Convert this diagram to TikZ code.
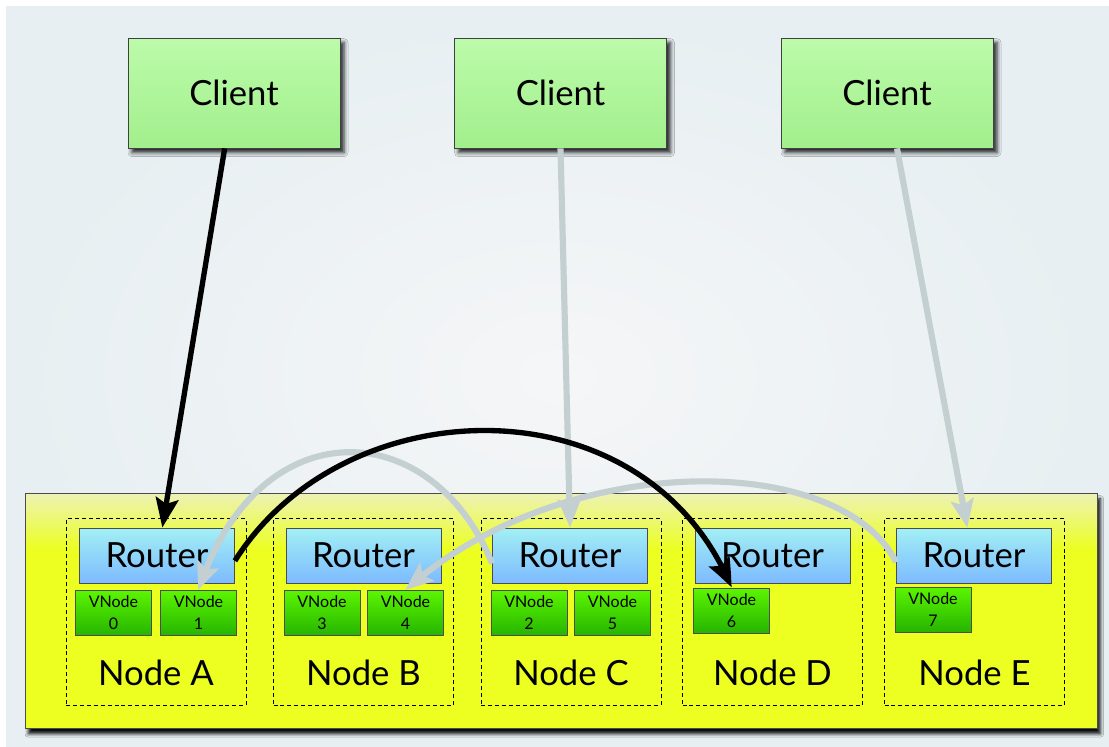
\documentclass[tikz,border=0pt]{standalone}
\usepackage{fontspec}
\setmainfont{Lato}
\usetikzlibrary{arrows.meta,bending,shadows.blur}

\definecolor{bgIn}{HTML}{F5F6F7}
\definecolor{bgOut}{HTML}{E7EFF2}
\definecolor{cliT}{HTML}{BCFBAA}
\definecolor{cliB}{HTML}{A2EF8C}
\definecolor{rtT}{HTML}{A2F0F4}
\definecolor{rtB}{HTML}{7DBAFF}
\definecolor{vnT}{HTML}{5CF500}
\definecolor{vnB}{HTML}{26B400}
\definecolor{ylwT}{HTML}{EDF2B4}
\definecolor{ylwB}{HTML}{ECFF20}
\definecolor{link}{HTML}{C3CFD1}

% pale band at the top of the cluster box, full yellow below
\pgfdeclareverticalshading{clusterfill}{100bp}{color(0bp)=(ylwB); color(25bp)=(ylwB); color(63bp)=(ylwB); color(75bp)=(ylwT); color(100bp)=(ylwT)}

\begin{document}
\begin{tikzpicture}[x=0.75pt,y=-0.75pt,
  client/.style={draw=black!75, line width=0.6pt, top color=cliT, bottom color=cliB,
    minimum width=159pt, minimum height=82.5pt, inner sep=0pt,
    font=\fontsize{26}{30}\selectfont,
    blur shadow={shadow xshift=3pt, shadow yshift=-3.5pt, shadow opacity=85, shadow blur radius=3pt}},
  cluster/.style={draw=black!70, line width=0.6pt, shading=clusterfill,
    minimum width=804pt, minimum height=176.25pt, inner sep=0pt,
    blur shadow={shadow xshift=2.5pt, shadow yshift=-4pt, shadow opacity=95, shadow blur radius=2.5pt}},
  hostbox/.style={draw=black, line width=0.6pt, dash pattern=on 3pt off 2.2pt,
    minimum width=135pt, minimum height=140pt, inner sep=0pt},
  router/.style={draw=black!70, line width=0.6pt, top color=rtT, bottom color=rtB,
    minimum width=116.25pt, minimum height=41.25pt, inner sep=0pt,
    font=\fontsize{26}{30}\selectfont},
  vnode/.style={draw=black!70, line width=0.6pt, top color=vnT, bottom color=vnB,
    minimum width=57pt, minimum height=33.75pt, inner sep=0pt, align=center,
    font=\fontsize{12}{16.5}\selectfont},
  hostlabel/.style={font=\fontsize{26}{30}\selectfont, inner sep=0pt},
  blackarrow/.style={line width=4pt, black, -{Stealth[length=22pt,width=17pt,inset=4pt,bend]}},
  grayarrow/.style={line width=4.6pt, link, -{Stealth[length=21pt,width=17pt,inset=4pt,bend]}}
]
\useasboundingbox (0,0) rectangle (1109,746);
\fill[white] (0,0) rectangle (1109,746);
\fill[inner color=bgIn, outer color=bgOut] (6,6) rectangle (1109,746);

% cluster of hosts
\node[cluster] (cl) at (561,611) {};

\node[hostbox] (hA) at (156,612) {};
\node[hostbox] (hB) at (363.5,612) {};
\node[hostbox] (hC) at (571,612) {};
\node[hostbox] (hD) at (772.5,612) {};
\node[hostbox] (hE) at (974.5,612) {};

\node[router] (rA) at (157,555.5) {Router};
\node[router] (rB) at (363.5,555.5) {Router};
\node[router] (rC) at (570,555.5) {Router};
\node[router] (rD) at (772.5,555.5) {Router};
\node[router] (rE) at (974,555.5) {Router};

\node[vnode] (v0) at (113.5,613) {VNode\\0};
\node[vnode] (v1) at (198.5,613) {VNode\\1};
\node[vnode] (v3) at (322,613) {VNode\\3};
\node[vnode] (v4) at (405.5,613) {VNode\\4};
\node[vnode] (v2) at (529,613) {VNode\\2};
\node[vnode] (v5) at (612.5,613) {VNode\\5};
\node[vnode] (v6) at (731.5,610.5) {VNode\\6};
\node[vnode] (v7) at (933,609.5) {VNode\\7};

\node[hostlabel] (lA) at (156,673) {Node A};
\node[hostlabel] (lB) at (363.5,673) {Node B};
\node[hostlabel] (lC) at (571,673) {Node C};
\node[hostlabel] (lD) at (772.5,673) {Node D};
\node[hostlabel] (lE) at (974.5,673) {Node E};

% clients
\node[client] (c1) at (234,93) {Client};
\node[client] (c2) at (560.5,93) {Client};
\node[client] (c3) at (887,93) {Client};

% requests forwarded between routers and vnodes
\draw[grayarrow] (c2.south) -- (rC.north);
\draw[grayarrow] ([xshift=7.5pt]c3.south) -- ([xshift=-5pt]rE.north);
\draw[grayarrow] ([yshift=-6pt]rC.west) .. controls +(-61,-150) and +(59,-182) .. (v1.north);
\draw[grayarrow] ([yshift=-5pt]rE.west) .. controls +(-56,-112) and +(155,-140) .. (v4.north);

\draw[blackarrow] ([xshift=-7pt]c1.south) -- ([xshift=4pt]rA.north);
\draw[blackarrow] ([yshift=-4pt]rA.east) .. controls +(110,-175) and +(-85,-208) .. (v6.north);
\end{tikzpicture}
\end{document}
